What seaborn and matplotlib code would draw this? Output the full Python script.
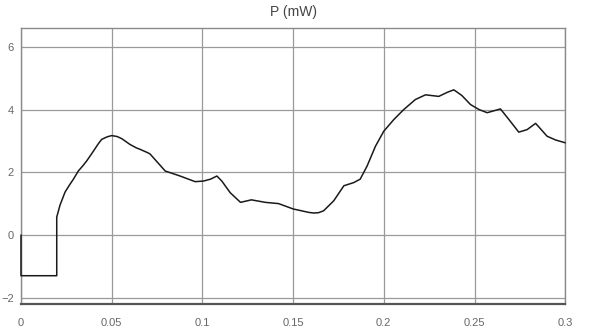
import numpy as np
import pandas as pd
import matplotlib
matplotlib.use('Agg')
import matplotlib.pyplot as plt
import seaborn as sns

# values (time in s, power in mW)
t = [0.0, 0.0, 0.0197, 0.0197, 0.0215, 0.0243, 0.0268, 0.0289, 0.0316, 0.0340,
     0.0362, 0.040, 0.0425, 0.0445, 0.0475, 0.050, 0.0530, 0.0556, 0.060, 0.0635,
     0.0657, 0.070, 0.0712, 0.0755, 0.0795, 0.0877, 0.096, 0.1006, 0.1045, 0.108,
     0.1107, 0.1153, 0.121, 0.127, 0.1347, 0.142, 0.150, 0.1586, 0.1613, 0.1640,
     0.1668, 0.1724, 0.178, 0.1834, 0.187, 0.1908, 0.1954, 0.200, 0.2055, 0.211,
     0.2174, 0.223, 0.2303, 0.2350, 0.2386, 0.2430, 0.2478, 0.2525, 0.257, 0.2643,
     0.269, 0.2744, 0.2790, 0.2837, 0.290, 0.2947, 0.300]
p = [0.0, -1.3, -1.3, 0.57, 0.95, 1.37, 1.60, 1.78, 2.04, 2.20,
     2.36, 2.68, 2.90, 3.05, 3.13, 3.17, 3.14, 3.07, 2.89, 2.78,
     2.73, 2.62, 2.58, 2.30, 2.04, 1.88, 1.70, 1.72, 1.78, 1.88,
     1.72, 1.35, 1.04, 1.12, 1.04, 1.0, 0.83, 0.72, 0.70, 0.71,
     0.77, 1.09, 1.57, 1.67, 1.78, 2.2, 2.83, 3.31, 3.68, 4.0,
     4.32, 4.47, 4.42, 4.55, 4.63, 4.45, 4.16, 4.00, 3.9, 4.02,
     3.68, 3.28, 3.36, 3.56, 3.15, 3.03, 2.94]
x_ticks = [0, 0.05, 0.1, 0.15, 0.2, 0.25, 0.3]
x_labels = ['0', '0.05', '0.1', '0.15', '0.2', '0.25', '0.3']
y_ticks = [-2, 0, 2, 4, 6]

df = pd.DataFrame({'t': t, 'P': p})

sns.set_style('white')
plt.rcParams['font.family'] = ['Liberation Sans', 'DejaVu Sans']

fig = plt.figure(figsize=(6, 3.3), dpi=100)
ax = fig.add_axes([0.035, 0.079, 0.907, 0.836])

sns.lineplot(data=df, x='t', y='P', sort=False, estimator=None,
             color='#1a1a1a', linewidth=1.1, ax=ax)
for ln in ax.lines:
    ln.set_clip_on(False)
    ln.set_zorder(5)

ax.set_xlim(0, 0.3)
ax.set_ylim(-2.2, 6.6)
ax.set_xticks(x_ticks)
ax.set_xticklabels(x_labels)
ax.set_yticks(y_ticks)
ax.grid(True, color='#9a9a9a', linewidth=0.9)
ax.set_axisbelow(True)
ax.tick_params(axis='both', labelsize=8, labelcolor='#666666', length=3,
               direction='in', color='#888888')
ax.tick_params(axis='x', pad=10)
ax.tick_params(axis='y', pad=5)
ax.set_xlabel('')
ax.set_ylabel('')
for side in ['top', 'right', 'left']:
    ax.spines[side].set_color('#8a8a8a')
    ax.spines[side].set_linewidth(1.0)
ax.spines['bottom'].set_color('#555555')
ax.spines['bottom'].set_linewidth(1.6)

fig.text(0.49, 0.965, 'P (mW)', ha='center', va='center', fontsize=10, color='#444444')

plt.savefig('out.png', dpi=100)
plt.close()
